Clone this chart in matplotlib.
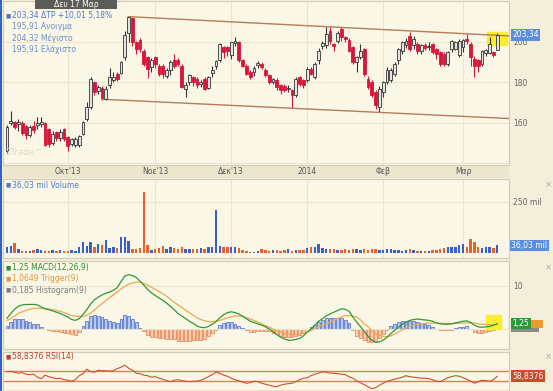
import numpy as np
import matplotlib
matplotlib.use('Agg')
import matplotlib.pyplot as plt
from matplotlib.patches import Rectangle
from matplotlib.transforms import blended_transform_factory

W, H = 553, 391

# daily candles, 9 Sep 2013 .. 17 Mar 2014
opens = [146, 160, 160.5, 159.5, 160, 158.5, 154, 158.5, 159, 159.5,
         160, 157, 150, 155.5, 152.5, 157, 153, 149.5, 149, 149,
         154.4, 162, 167.8, 180, 175.5, 177, 171.5, 178.5, 181, 184,
         184.5, 192.6, 204, 211.6, 199.7, 200.8, 195.6, 192.3, 187.4, 192.3,
         188.2, 188.2, 183, 186, 190.7, 190.7, 188.2, 176.8, 180, 182.5,
         181.7, 179.2, 181.7, 177.3, 184.5, 188.2, 190.7, 197.2, 197.2, 193.2,
         199.4, 199.7, 190.7, 188.2, 185, 185, 188.5, 189, 185.8, 183.3,
         180.3, 181, 178.4, 178, 176.5, 176, 173.5, 182.5, 180.9, 180.9,
         186.6, 182.5, 190.7, 198, 198.5, 205.4, 199, 200.5, 206.2, 202.1,
         200.8, 197.2, 190, 192.3, 196.4, 181.7, 180, 175.2, 167.8, 175.2,
         180, 181, 184, 190.7, 195.6, 198.1, 203, 198.1, 198.9, 195.6,
         198.4, 197.5, 198.9, 196.4, 194.8, 193.9, 189, 196.4, 196.4, 193.2,
         197.2, 201.3, 198.9, 191.5, 190.7, 189.2, 194.5, 194.6, 194.8, 195.91]
highs = [159, 166, 161, 162, 161, 159, 159, 161, 163, 163,
         160.5, 157.5, 156, 156, 157, 157.5, 153.5, 152.5, 153, 154,
         161, 170, 182.5, 180.5, 178.5, 178, 178, 187, 185, 185,
         190.5, 205, 212.3, 212, 200.5, 202, 196.5, 193, 192, 193,
         189, 189, 187, 191, 194, 192, 189, 180, 184, 183,
         182.5, 181, 182.5, 183, 188, 191, 199.4, 198, 198, 200,
         202.2, 200.5, 191.5, 189, 186, 188, 190.5, 190, 187, 184,
         182, 182, 179, 179, 178.5, 176.5, 182.5, 183, 181.7, 187.4,
         187.5, 190, 197, 200.5, 207, 207, 199.5, 205, 207, 203,
         202, 198, 193, 198.9, 197, 183, 181, 176, 178, 180.5,
         187.4, 187, 190, 197, 200.5, 202, 204.6, 203, 200, 199,
         199.5, 200, 199.5, 197, 195.6, 195, 195.6, 201, 200.5, 201.5,
         201.5, 203.8, 199.7, 193, 191.5, 196, 196.5, 202.5, 195.5, 204.32]
lows = [144.5, 159, 157, 156, 154, 152, 153, 155, 157, 158,
        148.5, 148, 149, 151, 151, 151, 146, 148.5, 148, 148,
        154, 161, 167, 173.5, 174, 171, 171, 177, 180, 180.5,
        184, 191, 200, 198, 193.8, 195, 188, 182.3, 185, 187,
        183, 182, 182, 183.6, 187, 188, 177, 172.6, 178.5, 178,
        177, 177.6, 176, 176.8, 182.5, 186.6, 190, 192, 193, 191.5,
        198, 190, 187.5, 183.5, 181.7, 183, 187, 186.6, 182.5, 179.2,
        179.2, 176, 174.4, 175, 175, 167.3, 172.6, 178, 177, 180,
        183.3, 181.7, 189, 196.5, 197, 199, 195.6, 199.5, 200.5, 199.7,
        194.8, 189, 185, 191.5, 183, 176.8, 172.6, 167, 165.3, 172.6,
        179, 180, 183, 189, 194, 197, 195.6, 196.5, 194, 194,
        196, 196, 194, 191.5, 188, 188, 188, 195, 196, 192.3,
        195, 199, 188.2, 182.5, 185, 188, 193, 194, 192.5, 195.91]
closes = [158, 161, 158, 160.3, 155, 154, 158, 156.5, 160, 160.5,
          149, 149.5, 154.5, 152.5, 155.5, 152, 148.5, 152, 152, 153.5,
          160.5, 167.8, 181.7, 175, 177.5, 172, 176.8, 182.5, 182.5, 181.7,
          190, 203.4, 211.9, 199.7, 196.4, 196.4, 189, 186.6, 190.7, 189,
          184.2, 184.2, 185.8, 190, 188.2, 189, 177.6, 178.5, 183.3, 180,
          178.4, 180.3, 176.8, 182.5, 186, 190.5, 198.9, 194.8, 195.6, 199.7,
          200.5, 190.7, 188.2, 184.2, 182.5, 187, 189.5, 187.4, 183.3, 180,
          181.5, 177.6, 176, 176, 177, 173.5, 181.7, 179.3, 178.4, 186.6,
          184.2, 189, 195.6, 199.4, 203.8, 200.5, 198, 204, 202.1, 201.3,
          195.6, 189.9, 192.3, 195.6, 184.2, 177.6, 173.5, 168.6, 176.8, 180,
          185.8, 185.8, 189, 196.4, 199.7, 200.5, 196.4, 201.3, 195.6, 198.1,
          197, 197.8, 194.8, 194, 189, 189, 194.8, 200.5, 199.7, 200.5,
          200.8, 200.5, 192.3, 188.2, 188.2, 195.6, 196, 199, 193.3, 203.34]
# volume in mil
volumes = [26, 33, 46, 16, 10, 8, 10, 12, 16, 14,
           10, 9, 12, 10, 11, 9, 10, 12, 10, 26,
           54, 33, 54, 26, 43, 38, 62, 21, 30, 22,
           79, 79, 59, 16, 18, 22, 300, 38, 13, 16,
           21, 33, 18, 26, 21, 20, 26, 16, 20, 16,
           20, 25, 20, 26, 26, 210, 33, 26, 30, 30,
           26, 23, 13, 8, 5, 5, 8, 16, 12, 10,
           12, 14, 10, 12, 16, 10, 13, 12, 14, 21,
           26, 30, 43, 21, 18, 16, 20, 12, 14, 16,
           13, 18, 16, 12, 16, 14, 20, 18, 14, 12,
           16, 20, 12, 14, 10, 12, 16, 12, 8, 10,
           8, 10, 12, 14, 16, 25, 30, 26, 30, 38,
           43, 30, 70, 54, 30, 21, 30, 26, 24, 36.03]
macd = [2.5, 3.6, 4.6, 5.3, 5.6, 5.7, 5.7, 5.7, 5.6, 5.1,
        4.7, 4.5, 4.2, 3.9, 3.6, 3.2, 2.8, 2.2, 2.0, 2.4,
        3.4, 4.5, 5.8, 6.8, 7.4, 7.9, 8.3, 8.6, 9.0, 9.6,
        11.0, 12.3, 12.6, 12.4, 12.0, 11.1, 10.2, 9.2, 8.4, 7.8,
        7.2, 6.7, 6.0, 5.3, 4.5, 3.6, 3.0, 2.4, 1.8, 1.3,
        0.7, 0.4, 0.3, 0.6, 1.1, 1.7, 2.6, 3.3, 3.8, 4.0,
        3.8, 3.5, 3.0, 2.4, 1.8, 1.5, 1.2, 0.9, 0.5, 0.0,
        -0.6, -1.3, -1.9, -2.3, -2.6, -2.6, -2.4, -2.2, -1.6, -0.7,
        0.0, 0.9, 1.8, 2.4, 3.0, 3.5, 3.9, 4.3, 4.7, 4.6,
        4.1, 2.8, 1.6, 0.6, -0.6, -1.7, -2.6, -3.1, -3.0, -2.6,
        -1.9, -1.1, -0.3, 0.4, 1.1, 1.6, 2.0, 2.2, 2.3, 2.2,
        2.1, 2.0, 1.8, 1.4, 1.2, 1.1, 1.1, 1.2, 1.4, 1.6,
        1.8, 1.9, 1.5, 0.9, 0.5, 0.4, 0.5, 0.6, 0.9, 1.25]
trigger = [2.0, 2.4, 3.0, 3.6, 4.0, 4.3, 4.6, 4.8, 4.8, 4.8,
           4.7, 4.6, 4.5, 4.3, 4.1, 3.8, 3.5, 3.1, 3.0, 2.9,
           2.9, 3.2, 3.7, 4.4, 5.2, 5.9, 6.6, 7.3, 7.9, 8.6,
           9.3, 9.9, 10.4, 10.7, 10.9, 10.9, 10.6, 10.2, 9.7, 9.2,
           8.7, 8.2, 7.6, 6.9, 6.2, 5.6, 5.0, 4.4, 3.8, 3.2,
           2.6, 2.2, 1.9, 1.7, 1.7, 1.8, 2.0, 2.3, 2.6, 2.8,
           3.0, 3.0, 2.9, 2.6, 2.3, 2.0, 1.6, 1.2, 0.8, 0.4,
           0.0, -0.4, -0.7, -1.0, -1.2, -1.3, -1.3, -1.2, -1.0, -0.7,
           -0.4, 0.2, 0.6, 0.9, 1.2, 1.6, 2.0, 2.4, 2.8, 3.1,
           3.1, 3.0, 2.8, 2.1, 1.2, 0.5, -0.4, -1.1, -1.5, -1.7,
           -1.8, -1.6, -1.2, -0.7, -0.2, 0.3, 0.7, 0.9, 1.1, 1.2,
           1.3, 1.35, 1.4, 1.4, 1.35, 1.3, 1.3, 1.3, 1.3, 1.35,
           1.4, 1.45, 1.45, 1.35, 1.2, 1.1, 1.05, 1.0, 1.0, 1.0649]
rsi = [68, 69, 67, 65, 66, 63, 62, 63, 57, 54,
       61, 58, 56, 54, 55, 52, 51, 49, 52, 60,
       64, 73, 68, 67, 71, 70, 70, 69, 70, 74,
       77, 81, 75, 71, 65, 64, 61, 60, 57, 58,
       55, 53, 50, 48, 51, 52, 50, 49, 48, 49,
       49, 51, 54, 58, 62, 67, 65, 61, 59, 55,
       52, 50, 47, 45, 46, 49, 48, 45, 43, 41,
       39, 38, 41, 43, 44, 45, 48, 52, 55, 56,
       60, 63, 65, 68, 67, 65, 65, 64, 63, 62,
       58, 55, 50, 46, 42, 38, 34, 36, 41, 45,
       49, 51, 53, 55, 57, 60, 58, 57, 56, 55,
       55, 54, 52, 49, 48, 52, 56, 58, 60, 59,
       56, 53, 49, 45, 48, 51, 50, 49, 52, 58.8376]

month_pos = [16, 39, 59, 79, 99, 120]
month_labels = ["Οκτ'13", "Νοε'13", "Δεκ'13", "2014", "Φεβ", "Μαρ"]

# trend channel (candle index, price)
top_line_x = [32, 132]
top_line_y = [212.3, 202.8]
bottom_line_x = [25, 132]
bottom_line_y = [171.6, 162.1]

header = 'Δευ 17 Μαρ'
info_first = '203,34 ΔΤΡ +10,01 5,18%'
info_lines = ['195,91 Ανοιγμα', '204,32 Μέγιστο', '195,91 Ελάχιστο']

BG = '#f4efda'
PANEL = '#fbf7e6'
GRID = '#ebe5cf'
EDGE = '#d3cdb8'
FS = 5.5


def box(x0, y0, x1, y1):
    return [x0 / W, 1 - y1 / H, (x1 - x0) / W, (y1 - y0) / H]


def style(ax):
    ax.set_facecolor(PANEL)
    for s in ax.spines.values():
        s.set_color(EDGE)
        s.set_linewidth(0.8)
    ax.set_xlim(-1.05, 132.1)
    ax.set_xticks(month_pos)
    ax.grid(color=GRID, lw=0.8)
    ax.set_axisbelow(True)
    ax.yaxis.tick_right()
    ax.tick_params(length=0, labelsize=FS, labelcolor='#666666', pad=3)


def tag(ax, y, text, color, x_off=2.5):
    ax.annotate(text, xy=(1, y), xycoords=('axes fraction', 'data'),
                xytext=(x_off, 0), textcoords='offset points',
                ha='left', va='center', fontsize=FS, color='white',
                bbox=dict(boxstyle='square,pad=0.18', fc=color, ec='none'),
                annotation_clip=False, zorder=10)


def plain_tag(ax, y, color, width_px, height_px, x0_px=2):
    # value marker whose text is hidden under the MACD tag
    tr = blended_transform_factory(ax.transAxes, ax.transData)
    x0 = 1 + x0_px / (506.0)
    hh = height_px / (ax.bbox.height) * (ax.get_ylim()[1] - ax.get_ylim()[0])
    ax.add_patch(Rectangle((x0, y - hh / 2), width_px / 506.0, hh,
                           transform=tr, fc=color, ec='none',
                           clip_on=False, zorder=9))


fig = plt.figure(figsize=(W / 100, H / 100), dpi=100, facecolor=BG)

o = np.array(opens)
c = np.array(closes)
x = np.arange(len(c))
up = c >= o
RED = '#d8153a'

# ---- price panel
ax = fig.add_axes(box(3, 1, 509, 165))
style(ax)
ax.set_ylim(139.2, 219.6)
ax.set_yticks([140, 160, 180, 200, 220])
ax.set_yticklabels(['', '160', '180', '200', ''])
ax.set_xticklabels(month_labels)
ax.tick_params(axis='x', pad=1.5, labelcolor='#555555')

last = x[-1]
ax.add_patch(Rectangle((last - 2.6, c[-1] - 4.8), 5.2, 6.4, color='#f7ef30', zorder=1.5))

bot = np.minimum(o, c)
hgt = np.maximum(np.abs(c - o), 0.35)
ax.vlines(x[up], np.array(lows)[up], np.array(highs)[up], color='#333333', lw=0.8, zorder=2)
ax.vlines(x[~up], np.array(lows)[~up], np.array(highs)[~up], color=RED, lw=0.8, zorder=2)
ax.bar(x[up], hgt[up], bottom=bot[up], width=0.7, color='#e4e4e2',
       edgecolor='#333333', lw=0.6, zorder=3)
ax.bar(x[~up], hgt[~up], bottom=bot[~up], width=0.7, color=RED,
       edgecolor=RED, lw=0.6, zorder=3)

ax.plot(top_line_x, top_line_y, color='#b97a57', lw=1.0, zorder=2.5)
ax.plot(bottom_line_x, bottom_line_y, color='#b97a57', lw=1.0, zorder=2.5)

tag(ax, c[-1], '203,34', '#5b8ee0')
ax.text(0.005, 0.06, 'ZTrade™', transform=ax.transAxes, fontsize=6,
        color='#ddd7c4')

# label strip under the price panel
fig.patches.append(Rectangle((3 / W, 1 - 178 / H), 506 / W, 13 / H,
                             transform=fig.transFigure, fc='#ece6cf',
                             ec='none', zorder=-1))

# header and price info
fig.patches.append(Rectangle((35 / W, 1 - 9 / H), 82 / W, 9 / H,
                             transform=fig.transFigure, fc='#5c5c58',
                             ec='none', zorder=5))
fig.text(76 / W, 1 - 4.8 / H, header, ha='center', va='center',
         fontsize=FS, color='white', zorder=6)
blue_txt = '#4f78c8'
fig.text(5 / W, 1 - 15.5 / H, '■', fontsize=4, color=blue_txt, va='center')
fig.text(11.5 / W, 1 - 15.5 / H, info_first, fontsize=FS, color=blue_txt, va='center')
for k, line in enumerate(info_lines):
    fig.text(12.5 / W, 1 - (26.8 + 11.2 * k) / H, line, fontsize=FS,
             color='#6a8ccc', va='center')

# ---- volume panel
axv = fig.add_axes(box(3, 179, 509, 258))
style(axv)
axv.set_xticklabels([])
axv.set_ylim(-26, 363)
axv.set_yticks([250])
axv.set_yticklabels(['250 mil'])
vcol = np.where(up, '#3a5fcd', '#e8612c')
axv.bar(x, volumes, width=0.6, color=vcol)
tag(axv, volumes[-1], '36,03 mil', '#5b8ee0', x_off=1.5)
fig.text(5 / W, 1 - 185 / H, '■', fontsize=4, color=blue_txt, va='center')
fig.text(11.5 / W, 1 - 185 / H, '36,03 mil Volume', fontsize=FS, color=blue_txt, va='center')

# ---- MACD panel
axh = fig.add_axes(box(3, 261, 509, 349))
style(axh)
axm = axh.twinx()
axh.set_zorder(1)
axm.set_zorder(2)
style(axm)
axm.patch.set_visible(False)
axh.grid(False)
axm.set_ylim(-4.65, 15.8)
axh.set_ylim(-4.65 / 1.4, 15.8 / 1.4)
axh.set_yticks([])
axh.set_xticklabels([])
axm.set_xticklabels([])
axm.set_yticks([0, 10])
axm.set_yticklabels(['', '10'])

hist = np.array(macd) - np.array(trigger)
pos = hist >= 0
axh.bar(x, hist, width=0.7, color=np.where(pos, '#b7c9f2', '#f8ceb8'),
        edgecolor=np.where(pos, '#4066c8', '#e8773f'), lw=0.5)
axm.add_patch(Rectangle((last - 3, 0), 4, 3.3, color='#f7ef30', zorder=1))
axm.plot(x, trigger, color='#eba850', lw=0.9, zorder=3)
axm.plot(x, macd, color='#2e9a37', lw=0.9, zorder=4)

plain_tag(axm, trigger[-1] - 0.8, '#8a8a8a', 28, 8)
plain_tag(axm, trigger[-1], '#eb9a30', 32, 8)
tag(axm, macd[-1], '1,25', '#2e9a37')

macd_labels = [('1,25 MACD(12,26,9)', '#2e8b2e'),
               ('1,0649 Trigger(9)', '#e0963a'),
               ('0,185 Histogram(9)', '#7c7c7c')]
for k, (txt, col) in enumerate(macd_labels):
    yy = 1 - (267.7 + 11.2 * k) / H
    fig.text(5 / W, yy, '■', fontsize=4, color=col, va='center', zorder=10)
    fig.text(11.5 / W, yy, txt, fontsize=FS, color=col, va='center', zorder=10)

# ---- RSI panel
axr = fig.add_axes(box(3, 352, 509, 396))
style(axr)
axr.grid(False)
axr.set_ylim(19.4, 107.4)
axr.set_yticks([])
axr.set_xticklabels([])
for lvl in [70, 50, 30]:
    axr.axhline(lvl, color='#ec7a52', lw=1.0)
axr.plot(x, rsi, color='#c4522e', lw=0.8)
tag(axr, rsi[-1], '58,8376', '#d6452e')
fig.text(5 / W, 1 - 357 / H, '■', fontsize=4, color='#c0392b', va='center')
fig.text(11.5 / W, 1 - 357 / H, '58,8376 RSI(14)', fontsize=FS, color='#b8402e', va='center')

for yy in [185, 268, 357]:
    fig.text(548 / W, 1 - yy / H, '×', fontsize=6, color='#a8a8a8',
             ha='center', va='center')

# window frame on the left
fig.patches.append(Rectangle((0, 0), 2 / W, 1, transform=fig.transFigure,
                             fc='#2f63c9', ec='none', zorder=20))

fig.savefig('out.png', dpi=100, facecolor=BG)
